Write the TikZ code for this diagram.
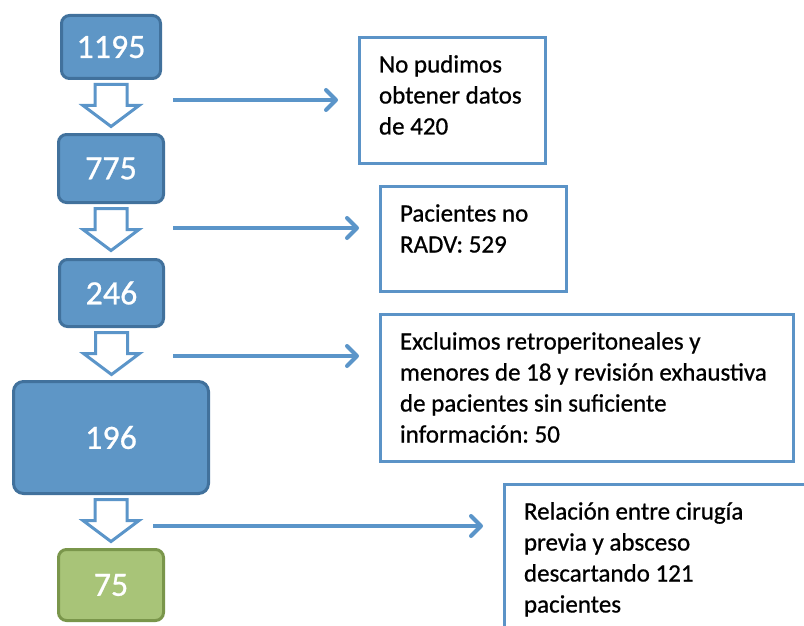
\documentclass[tikz,border=0pt]{standalone}
\usepackage{fontspec}
\setmainfont{Carlito}[FakeBold=0.7]
\usetikzlibrary{arrows.meta, positioning}

\definecolor{stepfill}{RGB}{94,150,198}
\definecolor{stepline}{RGB}{65,113,156}
\definecolor{endfill}{RGB}{168,196,120}
\definecolor{endline}{RGB}{122,150,75}
\definecolor{flowblue}{RGB}{91,149,201}
\definecolor{infoline}{RGB}{91,147,199}

\newcommand\infotext[3]{\parbox[t][#2][t]{#1}{\raggedright\frenchspacing\rule{0pt}{35pt}#3}}

\begin{document}
\begin{tikzpicture}[
      x=1pt, y=-1pt,
      stepbox/.style={rectangle, rounded corners=8pt, draw=stepline, fill=stepfill,
          line width=3pt, text=white, font=\fontsize{34}{40}\selectfont},
      endbox/.style={stepbox, draw=endline, fill=endfill},
      infobox/.style={rectangle, draw=infoline, fill=white, line width=3pt,
          inner xsep=19.5pt, inner ysep=0pt, anchor=north west,
          font=\fontsize{25}{31}\selectfont},
      flowarrow/.style={draw=flowblue, line width=4pt, shorten >=20pt,
          -{Straight Barb[length=10pt, width=20pt, round]}},
      pics/hollowdown/.style={code={
          \draw[flowblue, fill=white, line width=3pt]
              (-16,0) -- (16,0) -- (16,21) -- (28,21) -- (0,42) -- (-28,21) -- (-16,21) -- cycle;}}
    ]
    \useasboundingbox (0,0) rectangle (804,626);
    \clip (0,0) rectangle (804,626);

    \node[stepbox, minimum width=99pt, minimum height=63pt] (n1195) at (111,47) {1195};
    \node[stepbox, minimum width=105pt, minimum height=68pt] (n775) at (111,168.5) {775};
    \node[stepbox, minimum width=104pt, minimum height=67pt] (n246) at (111.5,293) {246};
    \node[stepbox, rounded corners=10pt, minimum width=195pt, minimum height=112pt] (n196) at (111,437.5) {196};
    \node[endbox, minimum width=105pt, minimum height=71pt] (n75) at (111,585) {75};

    \pic at ([yshift=-4.5pt]n1195.south) {hollowdown};
    \pic at ([yshift=-4.5pt]n775.south) {hollowdown};
    \pic at ([yshift=-4.5pt]n246.south) {hollowdown};
    \pic at ([yshift=-4.5pt]n196.south) {hollowdown};

    \node[infobox] (nodatos) at (358,36)
        {\infotext{147pt}{126pt}{No pudimos\\obtener datos\\de 420}};
    \node[infobox] (nordv) at (379,185)
        {\infotext{147pt}{105pt}{Pacientes no\\RADV: 529}};
    \node[infobox] (excluidos) at (379,313)
        {\infotext{374pt}{147pt}{Excluimos retroperitoneales y\\menores de 18 y revisión exhaustiva\\de pacientes sin suficiente\\información: 50}};
    \node[infobox] (relacion) at (503,483)
        {\infotext{280pt}{160pt}{Relación entre cirugía\\previa y absceso\\descartando 121\\pacientes}};

    % side arrows start next to the hollow ones
    \coordinate (s1) at (173,100);
    \coordinate (s2) at (173,228);
    \coordinate (s3) at (173,356);
    \coordinate (s4) at (153,526);
    \draw[flowarrow] (s1) -- (s1 -| nodatos.west);
    \draw[flowarrow] (s2) -- (s2 -| nordv.west);
    \draw[flowarrow] (s3) -- (s3 -| excluidos.west);
    \draw[flowarrow] (s4) -- (s4 -| relacion.west);
\end{tikzpicture}
\end{document}
